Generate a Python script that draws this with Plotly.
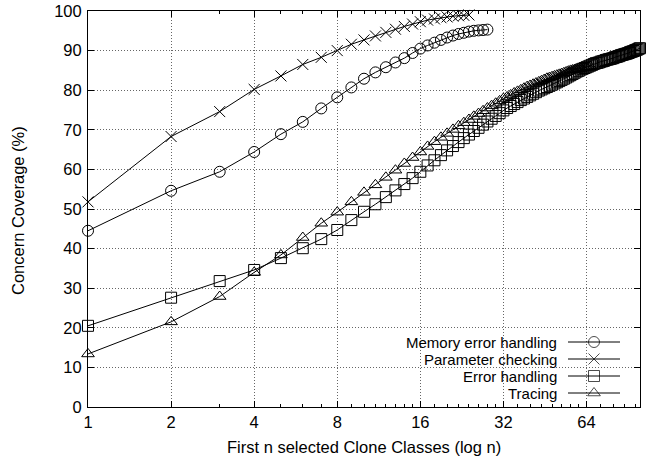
import plotly.graph_objects as go

# ---- data ----
mem_x = list(range(1, 29))
mem_y = [44.5, 54.6, 59.4, 64.4, 68.9, 72.0, 75.4, 78.2, 80.7, 82.9,
         84.5, 85.8, 87.0, 88.1, 89.4, 90.5, 91.3, 92.0, 92.7, 93.3,
         93.8, 94.2, 94.5, 94.8, 95.0, 95.1, 95.2, 95.3]

par_x = list(range(1, 25))
par_y = [51.8, 68.3, 74.6, 80.2, 83.6, 86.5, 88.3, 90.0, 91.6, 92.7,
         93.7, 94.6, 95.4, 96.1, 96.7, 97.3, 97.7, 98.0, 98.3, 98.5,
         98.7, 98.8, 98.9, 99.0]

err_x = list(range(1, 101))
err_y = [20.5, 27.6, 31.8, 34.6, 37.6, 40.1, 42.4, 44.7, 47.2, 49.3,
         51.2, 53.0, 54.7, 56.3, 57.8, 59.4, 61.0, 62.3, 63.6, 64.8,
         65.9, 66.9, 67.9, 68.8, 69.7, 70.5, 71.3, 72.1, 72.8, 73.5,
         74.2, 74.9, 75.5, 76.0, 76.5, 77.0, 77.5, 77.9, 78.3, 78.7,
         79.1, 79.5, 79.9, 80.2, 80.5, 80.8, 81.1, 81.4, 81.7, 82.0,
         82.3, 82.6, 82.9, 83.2, 83.5, 83.8, 84.1, 84.4, 84.7, 84.9,
         85.2, 85.4, 85.6, 85.8, 86.0, 86.2, 86.4, 86.6, 86.8, 86.9,
         87.0, 87.2, 87.3, 87.4, 87.6, 87.7, 87.8, 87.9, 88.0, 88.1,
         88.3, 88.4, 88.5, 88.6, 88.8, 88.9, 89.0, 89.1, 89.2, 89.3,
         89.4, 89.6, 89.7, 89.8, 89.9, 90.1, 90.2, 90.3, 90.5, 90.6]

tr_x = list(range(1, 67))
tr_y = [13.4, 21.5, 27.9, 34.0, 38.4, 42.8, 46.4, 49.2, 51.8, 54.2,
        56.1, 58.0, 59.8, 61.5, 63.0, 64.4, 65.8, 67.0, 68.1, 69.1,
        70.1, 71.0, 71.8, 72.6, 73.4, 74.1, 74.8, 75.5, 76.1, 76.7,
        77.3, 77.9, 78.3, 78.8, 79.3, 79.7, 80.1, 80.5, 80.9, 81.2,
        81.5, 81.8, 82.1, 82.4, 82.7, 83.0, 83.2, 83.4, 83.6, 83.8,
        84.0, 84.2, 84.4, 84.6, 84.8, 85.0, 85.1, 85.2, 85.3, 85.4,
        85.5, 85.6, 85.7, 85.8, 85.9, 86.0]

series_names = ["Memory error handling", "Parameter checking", "Error handling", "Tracing"]
series_x = [mem_x, par_x, err_x, tr_x]
series_y = [mem_y, par_y, err_y, tr_y]
symbols = ["circle-open", "x-thin-open", "square-open", "triangle-up-open"]

x_ticks = [1, 2, 4, 8, 16, 32, 64]
x_minor = [3, 5, 6, 7] + list(range(9, 16)) + list(range(18, 31, 2)) + \
          list(range(36, 61, 4)) + list(range(72, 97, 8))
y_ticks = list(range(0, 101, 10))

x_title = "First n selected Clone Classes (log n)"
y_title = "Concern Coverage (%)"

FONT = "Liberation Sans, Arial, Helvetica, sans-serif"
FS = 16.5
KEY_FS = 15

W, H = 651, 463
L, R, T, B = 88, 640, 11, 407

fig = go.Figure()
for name, xs, ys, sym in zip(series_names, series_x, series_y, symbols):
    fig.add_trace(go.Scatter(
        x=xs, y=ys, mode="lines+markers", name=name, showlegend=False,
        line=dict(color="black", width=1),
        marker=dict(symbol=sym, size=11, color="black",
                    line=dict(color="black", width=1)),
        cliponaxis=False,
    ))


def px2paper_x(px):
    return (px - L) / float(R - L)


def py2paper_y(py):
    return (B - py) / float(B - T)


# ---- axis titles ----
fig.add_annotation(x=0.5, y=py2paper_y(447), xref="paper", yref="paper",
                   text=x_title, showarrow=False, xanchor="center", yanchor="middle",
                   font=dict(family=FONT, size=FS, color="black"))
fig.add_annotation(x=px2paper_x(18), y=py2paper_y(211), xref="paper", yref="paper",
                   text=y_title, showarrow=False, textangle=-90,
                   xanchor="center", yanchor="middle",
                   font=dict(family=FONT, size=FS, color="black"))

# ---- custom gnuplot-style key (text, then sample) ----
key_rows_py = [342, 359, 376, 393]
key_text_px = 558
key_l, key_r = 568, 620
for name, sym, py in zip(series_names, symbols, key_rows_py):
    yy = py2paper_y(py)
    fig.add_annotation(x=px2paper_x(key_text_px), y=yy, xref="paper", yref="paper",
                       text=name, showarrow=False, xanchor="right", yanchor="middle",
                       borderpad=0,
                       font=dict(family=FONT, size=KEY_FS, color="black"))
    fig.add_trace(go.Scatter(
        x=[px2paper_x(key_l), px2paper_x((key_l + key_r) / 2), px2paper_x(key_r)],
        y=[yy, yy, yy], xaxis="x2", yaxis="y2", mode="lines+markers",
        showlegend=False, hoverinfo="skip",
        line=dict(color="black", width=1),
        marker=dict(symbol=sym, size=[0, 11, 0], color="black",
                    line=dict(color="black", width=1)),
        cliponaxis=False,
    ))

# white key box hiding the grid
fig.add_shape(type="rect", xref="paper", yref="paper",
              x0=px2paper_x(350), x1=px2paper_x(632),
              y0=py2paper_y(405), y1=py2paper_y(333),
              fillcolor="white", line=dict(width=0), layer="between")

axis_common = dict(
    showline=True, linecolor="black", linewidth=1, mirror="allticks",
    ticks="inside", ticklen=6, tickcolor="black", tickwidth=1,
    showgrid=True, gridcolor="#666", griddash="1px,2px", gridwidth=1,
    zeroline=False, automargin=False,
    tickfont=dict(family=FONT, size=FS, color="black"),
)

fig.update_layout(
    width=W, height=H,
    margin=dict(l=L, r=W - R, t=T, b=H - B),
    paper_bgcolor="white", plot_bgcolor="white",
    font=dict(family=FONT, size=FS, color="black"),
    xaxis=dict(
        type="log", range=[0, 2], tickvals=x_ticks,
        ticktext=[str(v) for v in x_ticks],
        minor=dict(tickvals=x_minor, ticks="inside", ticklen=3,
                   tickcolor="black", showgrid=False),
        **axis_common,
    ),
    yaxis=dict(
        range=[0, 100], tickvals=y_ticks, ticklabelstandoff=2,
        **axis_common,
    ),
    xaxis2=dict(overlaying="x", range=[0, 1], visible=False, anchor="y2"),
    yaxis2=dict(overlaying="y", range=[0, 1], visible=False, anchor="x2"),
)

# remove the page's default 8px body margin so the figure sits at the corner
fig.write_html("out.html", config={"displayModeBar": False},
               post_script="document.body.style.margin='0';")
